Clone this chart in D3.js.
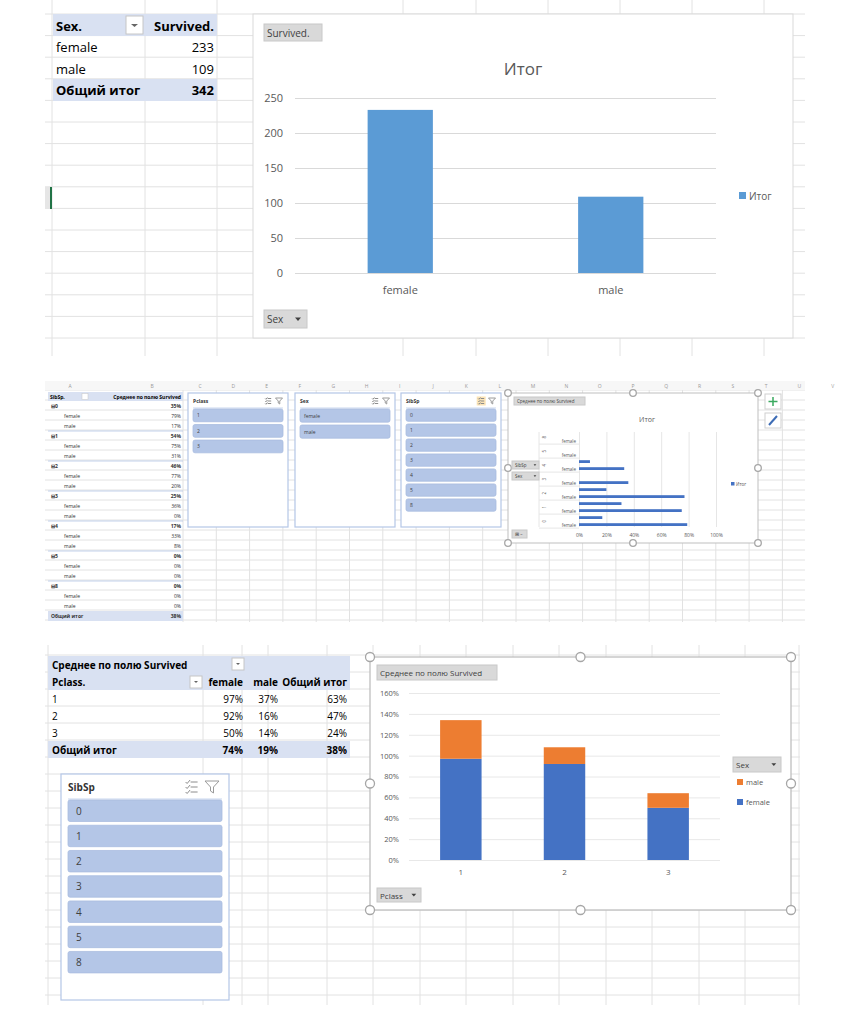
<!DOCTYPE html>
<html>
<head>
<meta charset="utf-8">
<script src="https://cdnjs.cloudflare.com/ajax/libs/d3/7.8.5/d3.min.js"></script>
<style>
  body { margin: 0; background: #fff; }
  svg { display: block; font-family: "Open Sans", "Noto Sans", sans-serif; }
</style>
</head>
<body>
<svg id="sheet" width="854" height="1024"></svg>
<script>
// ---- data ----
const sexCats = ["female", "male"];
const sexSurvived = [233, 109];
const sexSurvivedTotal = 342;
const countTicks = [0, 50, 100, 150, 200, 250];

const sibspGroups = ["0", "1", "2", "3", "4", "5", "8"];
const sibspRate = [0.35, 0.54, 0.46, 0.25, 0.17, 0, 0];
const sibspFemale = [0.79, 0.75, 0.77, 0.36, 0.33, 0, 0];
const sibspMale = [0.17, 0.31, 0.20, 0, 0.08, 0, 0];
const sibspTotalRate = 0.38;
const pctTicksSmall = [0, 0.2, 0.4, 0.6, 0.8, 1.0];

const pclassCats = ["1", "2", "3"];
const pclassFemale = [0.97, 0.92, 0.50];
const pclassMale = [0.37, 0.16, 0.14];
const pclassTotal = [0.63, 0.47, 0.24];
const sexRateTotals = [0.74, 0.19, 0.38];
const pctTicksBig = [0, 0.2, 0.4, 0.6, 0.8, 1.0, 1.2, 1.4, 1.6];

const gridColor = "#e2e2e2";
const headFill = "#d9e1f2";
const slicerItem = "#b4c6e7";
const barBlue = "#5b9bd5";
const femaleColor = "#4472c4";
const maleColor = "#ed7d31";
const axisText = "#595959";
const pct = d3.format(".0%");

const svg = d3.select("#sheet");

// ---- helpers ----
function grid(x0, x1, y0, y1, xs, ys) {
  let g = svg.append("g");
  xs.forEach(function(x) {
    g.append("line").attr("x1", x).attr("x2", x).attr("y1", y0).attr("y2", y1)
      .style("stroke", gridColor).style("stroke-width", 1);
  });
  ys.forEach(function(y) {
    g.append("line").attr("x1", x0).attr("x2", x1).attr("y1", y).attr("y2", y)
      .style("stroke", gridColor).style("stroke-width", 1);
  });
}

function steps(start, end, step) {
  let out = [];
  for (let v = start; v <= end + 0.01; v += step) out.push(v);
  return out;
}

function button(x, y, w, h, label, size, arrow) {
  svg.append("rect").attr("x", x).attr("y", y).attr("width", w).attr("height", h)
    .style("fill", "#d9d9d9").style("stroke", "#c8c8c8");
  svg.append("text").attr("x", x + 3).attr("y", y + h / 2).text(label)
    .style("font-size", size).style("fill", "#404040").style("dominant-baseline", "central");
  if (arrow) {
    let ax = x + w - size * 0.9, ay = y + h / 2;
    svg.append("path")
      .attr("d", "M" + (ax - size * 0.3) + "," + (ay - size * 0.15) + " L" + (ax + size * 0.3) + "," + (ay - size * 0.15) + " L" + ax + "," + (ay + size * 0.2) + " Z")
      .style("fill", "#404040");
  }
}

function handles(x, y, w, h, r) {
  [[0, 0], [0.5, 0], [1, 0], [0, 0.5], [1, 0.5], [0, 1], [0.5, 1], [1, 1]].forEach(function(p) {
    svg.append("circle").attr("cx", x + p[0] * w).attr("cy", y + p[1] * h).attr("r", r)
      .style("fill", "#fff").style("stroke", "#a6a6a6").style("stroke-width", 1.3);
  });
}

function slicer(x, y, w, h, title, items, opt) {
  svg.append("rect").attr("x", x).attr("y", y).attr("width", w).attr("height", h)
    .style("fill", "#fff").style("stroke", "#b4c6e7").style("stroke-width", 1.2);
  svg.append("text").attr("x", x + opt.pad).attr("y", y + opt.titleY).text(title)
    .style("font-size", opt.titleSize).style("font-weight", "bold").style("fill", "#333")
    .style("dominant-baseline", "central");
  svg.append("line").attr("x1", x + opt.pad).attr("x2", x + w - opt.pad)
    .attr("y1", y + opt.titleY * 2 - 1).attr("y2", y + opt.titleY * 2 - 1)
    .style("stroke", "#c9d6ee");
  // multi-select and clear-filter icons
  let ix = x + w - opt.iconGap * 2.2;
  let s = opt.titleSize;
  let icon = svg.append("g").attr("transform", "translate(" + ix + "," + (y + opt.titleY) + ")");
  if (opt.highlight) {
    icon.append("rect").attr("x", -s * 0.9).attr("y", -s * 0.9).attr("width", s * 1.8).attr("height", s * 1.8)
      .style("fill", "#fce4b6");
  }
  [-0.5, 0, 0.5].forEach(function(k) {
    icon.append("line").attr("x1", -s * 0.1).attr("x2", s * 0.6).attr("y1", k * s).attr("y2", k * s)
      .style("stroke", "#8c8c8c").style("stroke-width", 1);
    icon.append("path").attr("d", "M" + (-s * 0.6) + "," + (k * s) + " l" + (s * 0.15) + "," + (s * 0.15) + " l" + (s * 0.3) + "," + (-s * 0.35))
      .style("fill", "none").style("stroke", "#8c8c8c").style("stroke-width", 1);
  });
  svg.append("path")
    .attr("d", "M" + (x + w - opt.iconGap - s * 0.7) + "," + (y + opt.titleY - s * 0.6) +
      " h" + (s * 1.4) + " l" + (-s * 0.55) + "," + (s * 0.6) + " v" + (s * 0.6) + " l" + (-s * 0.3) + "," + (-s * 0.2) + " v" + (-s * 0.4) + " Z")
    .style("fill", "none").style("stroke", "#9a9a9a").style("stroke-width", 1);

  let yb = d3.scaleBand().domain(items).range([y + opt.listTop, y + opt.listTop + items.length * opt.itemStep]).paddingInner(opt.itemGap);
  items.forEach(function(it) {
    svg.append("rect").attr("x", x + opt.pad).attr("y", yb(it)).attr("width", w - opt.pad * 2).attr("height", yb.bandwidth())
      .attr("rx", 2).style("fill", slicerItem).style("stroke", "#a9bcdf").style("stroke-width", 0.8);
    svg.append("text").attr("x", x + opt.pad + opt.textPad).attr("y", yb(it) + yb.bandwidth() / 2).text(it)
      .style("font-size", opt.itemSize).style("fill", "#404040").style("dominant-baseline", "central");
  });
}

// ============ TOP SECTION ============
grid(45, 805, 0, 356,
  [52, 145, 217, 403, 476, 548, 620, 692, 764],
  steps(14, 350, 21.6));
// row header strip with selected row marker
svg.append("rect").attr("x", 45).attr("y", 187).attr("width", 6).attr("height", 22).style("fill", "#e6e6e6");
svg.append("line").attr("x1", 51).attr("x2", 51).attr("y1", 187).attr("y2", 209).style("stroke", "#217346").style("stroke-width", 2);

// pivot table: Sex / Survived
svg.append("rect").attr("x", 53).attr("y", 14).attr("width", 164).attr("height", 22).style("fill", headFill);
svg.append("rect").attr("x", 53).attr("y", 79).attr("width", 164).attr("height", 22).style("fill", headFill);
svg.append("text").attr("x", 56).attr("y", 26).text("Sex.").style("font-weight", "bold").style("font-size", 13).style("dominant-baseline", "central");
svg.append("rect").attr("x", 126).attr("y", 16).attr("width", 17).attr("height", 18).style("fill", "#fff").style("stroke", "#c6c6c6");
svg.append("path").attr("d", "M131,24 h7 l-3.5,3 Z").style("fill", "#666");
svg.append("text").attr("x", 214).attr("y", 26).text("Survived.").style("font-weight", "bold").style("font-size", 13)
  .style("text-anchor", "end").style("dominant-baseline", "central");
sexCats.forEach(function(c, i) {
  let ty = 47 + i * 21.6;
  svg.append("text").attr("x", 56).attr("y", ty).text(c).style("font-size", 13).style("dominant-baseline", "central");
  svg.append("text").attr("x", 214).attr("y", ty).text(sexSurvived[i]).style("font-size", 13)
    .style("text-anchor", "end").style("dominant-baseline", "central");
});
svg.append("text").attr("x", 56).attr("y", 90).text("Общий итог").style("font-weight", "bold").style("font-size", 13).style("dominant-baseline", "central");
svg.append("text").attr("x", 214).attr("y", 90).text(sexSurvivedTotal).style("font-weight", "bold").style("font-size", 13)
  .style("text-anchor", "end").style("dominant-baseline", "central");

// chart 1
svg.append("rect").attr("x", 253).attr("y", 14).attr("width", 540).attr("height", 324)
  .style("fill", "#fff").style("stroke", "#d9d9d9");
button(264, 24, 58, 17, "Survived.", 10, false);
svg.append("text").attr("x", 523).attr("y", 68).text("Итог").style("font-size", 17).style("fill", axisText)
  .style("text-anchor", "middle").style("dominant-baseline", "central");

let x1 = d3.scaleBand().domain(sexCats).range([295, 716]).paddingInner(0.69).paddingOuter(0.345);
let y1 = d3.scaleLinear().domain([0, 250]).range([273, 98]);
let ax1 = svg.append("g").attr("transform", "translate(295,0)")
  .call(d3.axisLeft(y1).tickValues(countTicks).tickSize(-421).tickPadding(12));
ax1.select(".domain").remove();
ax1.selectAll("line").style("stroke", "#d9d9d9");
ax1.selectAll("text").style("font-size", 11).style("fill", axisText).style("font-family", "Open Sans");

svg.append("g").selectAll("rect").data(sexSurvived).enter().append("rect")
  .attr("x", function(d, i) { return x1(sexCats[i]); })
  .attr("y", function(d) { return y1(d); })
  .attr("width", x1.bandwidth())
  .attr("height", function(d) { return y1(0) - y1(d); })
  .style("fill", barBlue);
let bx1 = svg.append("g").attr("transform", "translate(0,273)")
  .call(d3.axisBottom(x1).tickSize(0).tickPadding(13));
bx1.select(".domain").remove();
bx1.selectAll("text").style("font-size", 11).style("fill", axisText).style("font-family", "Open Sans");

svg.append("rect").attr("x", 739).attr("y", 192).attr("width", 7).attr("height", 7).style("fill", barBlue);
svg.append("text").attr("x", 749).attr("y", 196).text("Итог").style("font-size", 10).style("fill", axisText).style("dominant-baseline", "central");
button(264, 310, 43, 18, "Sex", 10, true);

// ============ MIDDLE SECTION ============
grid(45, 805, 381, 622, steps(183, 805, 33.3), steps(390, 622, 10));
svg.append("rect").attr("x", 45).attr("y", 381).attr("width", 760).attr("height", 9).style("fill", "#f7f7f7");
["A", "B", "C", "D", "E", "F", "G", "H", "I", "J", "K", "L", "M", "N", "O", "P", "Q", "R", "S", "T", "U", "V"].forEach(function(l, i) {
  svg.append("text").attr("x", i < 2 ? 70 + i * 82 : 200 + (i - 2) * 33.3).attr("y", 386).text(l)
    .style("font-size", 5).style("fill", "#9a9a9a").style("text-anchor", "middle").style("dominant-baseline", "central");
});

// pivot table: SibSp / Sex, mean of Survived
let midRows = [];
sibspGroups.forEach(function(g, i) {
  midRows.push({ label: "⊟" + g, value: sibspRate[i], bold: true, indent: 0 });
  midRows.push({ label: "female", value: sibspFemale[i], bold: false, indent: 1 });
  midRows.push({ label: "male", value: sibspMale[i], bold: false, indent: 1 });
});
midRows.push({ label: "Общий итог", value: sibspTotalRate, bold: true, indent: 0, total: true });

svg.append("rect").attr("x", 48).attr("y", 392).attr("width", 135).attr("height", 9).style("fill", headFill);
svg.append("text").attr("x", 50).attr("y", 396.5).text("SibSp.").style("font-size", 5).style("font-weight", "bold").style("dominant-baseline", "central");
svg.append("rect").attr("x", 82).attr("y", 393.5).attr("width", 6).attr("height", 6).style("fill", "#fff").style("stroke", "#c6c6c6").style("stroke-width", 0.5);
svg.append("text").attr("x", 181).attr("y", 396.5).text("Среднее по полю Survived").style("font-size", 5).style("font-weight", "bold")
  .style("text-anchor", "end").style("dominant-baseline", "central");
let rowY = d3.scaleBand().domain(d3.range(midRows.length)).range([401, 621]);
midRows.forEach(function(r, i) {
  let cy = rowY(i) + rowY.bandwidth() / 2;
  if (r.total) {
    svg.append("rect").attr("x", 48).attr("y", rowY(i)).attr("width", 135).attr("height", rowY.bandwidth()).style("fill", headFill);
  }
  if (r.bold && !r.total && i > 0) {
    svg.append("line").attr("x1", 48).attr("x2", 183).attr("y1", rowY(i)).attr("y2", rowY(i)).style("stroke", "#b4c6e7").style("stroke-width", 0.8);
  }
  svg.append("text").attr("x", 51 + r.indent * 13).attr("y", cy).text(r.label)
    .style("font-size", 5).style("font-weight", r.bold ? "bold" : "normal").style("fill", "#333").style("dominant-baseline", "central");
  svg.append("text").attr("x", 181).attr("y", cy).text(pct(r.value))
    .style("font-size", 5).style("font-weight", r.bold ? "bold" : "normal").style("fill", "#333")
    .style("text-anchor", "end").style("dominant-baseline", "central");
});

// three slicers
let smallSlicer = { pad: 5, titleY: 8, titleSize: 5, iconGap: 9, listTop: 16, itemStep: 14.6, itemGap: 0.18, itemSize: 5, textPad: 4 };
slicer(188, 393, 100, 134, "Pclass", pclassCats, smallSlicer);
slicer(295, 393, 100, 134, "Sex", sexCats, smallSlicer);
slicer(401, 393, 100, 134, "SibSp", sibspGroups, Object.assign({}, smallSlicer, { highlight: true }));

// chart 2: horizontal bars by SibSp and Sex
svg.append("rect").attr("x", 508).attr("y", 393).attr("width", 250).attr("height", 150)
  .style("fill", "#fff").style("stroke", "#bfbfbf");
handles(508, 393, 250, 150, 3.3);
button(514, 397, 71, 8, "Среднее по полю Survived", 4.5, false);
svg.append("text").attr("x", 647).attr("y", 419).text("Итог").style("font-size", 7).style("fill", axisText)
  .style("text-anchor", "middle").style("dominant-baseline", "central");

let hbCats = [];
sibspGroups.forEach(function(g, i) {
  hbCats.push({ key: g + "f", group: g, sex: "female", value: sibspFemale[i] });
  hbCats.push({ key: g + "m", group: g, sex: "male", value: sibspMale[i] });
});
let y2 = d3.scaleBand().domain(hbCats.map(function(d) { return d.key; })).range([526, 432.2]).paddingInner(0.6);
let x2 = d3.scaleLinear().domain([0, 1]).range([579, 716]);
let ax2 = svg.append("g").attr("transform", "translate(0,527)")
  .call(d3.axisBottom(x2).tickValues(pctTicksSmall).tickFormat(pct).tickSize(-95).tickPadding(6));
ax2.select(".domain").remove();
ax2.selectAll("line").style("stroke", "#e6e6e6");
ax2.selectAll("text").style("font-size", 5).style("fill", axisText).style("font-family", "Open Sans");

svg.append("g").selectAll("rect").data(hbCats).enter().append("rect")
  .attr("x", x2(0))
  .attr("y", function(d) { return y2(d.key); })
  .attr("width", function(d) { return x2(d.value) - x2(0); })
  .attr("height", y2.bandwidth())
  .style("fill", femaleColor);

let step2 = y2.step();
hbCats.forEach(function(d) {
  if (d.sex === "female") {
    let cy = y2(d.key) + y2.bandwidth() / 2;
    svg.append("text").attr("x", 576).attr("y", cy).text(d.sex).style("font-size", 4.5).style("fill", axisText)
      .style("text-anchor", "end").style("dominant-baseline", "central");
    let gc = cy - step2 / 2;
    svg.append("text").attr("transform", "translate(544," + gc + ") rotate(-90)").text(d.group)
      .style("font-size", 4.5).style("fill", axisText).style("text-anchor", "middle").style("dominant-baseline", "central");
    svg.append("line").attr("x1", 539).attr("x2", 579).attr("y1", cy + step2 / 2).attr("y2", cy + step2 / 2).style("stroke", "#e6e6e6");
  }
});
svg.append("line").attr("x1", 539).attr("x2", 539).attr("y1", 432).attr("y2", 527).style("stroke", "#e6e6e6");
button(512, 461, 27, 8, "SibSp", 4.5, true);
button(512, 472, 27, 8, "Sex", 4.5, true);
button(512, 530, 15, 8, "⊞ –", 4.5, false);
svg.append("rect").attr("x", 731).attr("y", 482).attr("width", 3.5).attr("height", 3.5).style("fill", femaleColor);
svg.append("text").attr("x", 736).attr("y", 484).text("Итог").style("font-size", 4.5).style("fill", axisText).style("dominant-baseline", "central");

// chart tool buttons
svg.append("rect").attr("x", 765).attr("y", 394).attr("width", 16).attr("height", 15).style("fill", "#fff").style("stroke", "#d0d0d0");
svg.append("path").attr("d", "M773,397 v9 M768.5,401.5 h9").style("stroke", "#3aa95f").style("stroke-width", 1.5);
svg.append("rect").attr("x", 765).attr("y", 413).attr("width", 16).attr("height", 15).style("fill", "#fff").style("stroke", "#d0d0d0");
svg.append("path").attr("d", "M769,425 L777,416").style("stroke", "#3d6cb5").style("stroke-width", 2);

// ============ BOTTOM SECTION ============
grid(45, 800, 645, 1005,
  [48, 203, 242, 268, 327, 373, 420, 466, 513, 559, 606, 652, 699, 745, 799],
  steps(655, 1004, 17));

// pivot table: Pclass x Sex
svg.append("rect").attr("x", 48).attr("y", 656).attr("width", 302).attr("height", 34).style("fill", headFill);
svg.append("rect").attr("x", 48).attr("y", 741).attr("width", 302).attr("height", 17).style("fill", headFill);
svg.append("text").attr("x", 52).attr("y", 665).text("Среднее по полю Survived").style("font-size", 10).style("font-weight", "bold").style("dominant-baseline", "central");
svg.append("rect").attr("x", 232).attr("y", 658).attr("width", 12).attr("height", 12).style("fill", "#fff").style("stroke", "#c6c6c6");
svg.append("path").attr("d", "M236,663 h4 l-2,2 Z").style("fill", "#666");
svg.append("text").attr("x", 52).attr("y", 682).text("Pclass.").style("font-size", 10).style("font-weight", "bold").style("dominant-baseline", "central");
svg.append("rect").attr("x", 190).attr("y", 676).attr("width", 12).attr("height", 12).style("fill", "#fff").style("stroke", "#c6c6c6");
svg.append("path").attr("d", "M194,681 h4 l-2,2 Z").style("fill", "#666");
let colX = [243, 278, 347];
sexCats.concat(["Общий итог"]).forEach(function(h, i) {
  svg.append("text").attr("x", colX[i]).attr("y", 682).text(h).style("font-size", 10).style("font-weight", "bold")
    .style("text-anchor", "end").style("dominant-baseline", "central");
});
pclassCats.forEach(function(c, i) {
  let cy = 699 + i * 17;
  svg.append("text").attr("x", 52).attr("y", cy).text(c).style("font-size", 10).style("dominant-baseline", "central");
  [pclassFemale[i], pclassMale[i], pclassTotal[i]].forEach(function(v, j) {
    svg.append("text").attr("x", colX[j]).attr("y", cy).text(pct(v)).style("font-size", 10)
      .style("text-anchor", "end").style("dominant-baseline", "central");
  });
});
svg.append("text").attr("x", 52).attr("y", 750).text("Общий итог").style("font-size", 10).style("font-weight", "bold").style("dominant-baseline", "central");
sexRateTotals.forEach(function(v, j) {
  svg.append("text").attr("x", colX[j]).attr("y", 750).text(pct(v)).style("font-size", 10).style("font-weight", "bold")
    .style("text-anchor", "end").style("dominant-baseline", "central");
});

// big SibSp slicer
slicer(61, 774, 168, 226, "SibSp", sibspGroups,
  { pad: 7, titleY: 13, titleSize: 10, iconGap: 17, listTop: 26, itemStep: 24.7, itemGap: 0.15, itemSize: 10, textPad: 8 });

// chart 3: stacked columns by Pclass
svg.append("rect").attr("x", 370).attr("y", 657).attr("width", 421).attr("height", 253)
  .style("fill", "#fff").style("stroke", "#bfbfbf").style("stroke-width", 1.3);
handles(370, 657, 421, 253, 4.5);
button(377, 665, 120, 15, "Среднее по полю Survived", 8, false);

let x3 = d3.scaleBand().domain(pclassCats).range([409, 720]).paddingInner(0.6).paddingOuter(0.3);
let y3 = d3.scaleLinear().domain([0, 1.6]).range([860, 693]);
let ax3 = svg.append("g").attr("transform", "translate(409,0)")
  .call(d3.axisLeft(y3).tickValues(pctTicksBig).tickFormat(pct).tickSize(-311).tickPadding(10));
ax3.select(".domain").remove();
ax3.selectAll("line").style("stroke", "#e8e8e8");
ax3.selectAll("text").style("font-size", 7.5).style("fill", axisText).style("font-family", "Open Sans");

let stackData = pclassCats.map(function(c, i) { return { cat: c, female: pclassFemale[i], male: pclassMale[i] }; });
let stacked = d3.stack().keys(["female", "male"])(stackData);
let sexColor = d3.scaleOrdinal().domain(["female", "male"]).range([femaleColor, maleColor]);
svg.append("g").selectAll("g").data(stacked).enter().append("g")
  .style("fill", function(s) { return sexColor(s.key); })
  .selectAll("rect").data(function(s) { return s; }).enter().append("rect")
  .attr("x", function(d) { return x3(d.data.cat); })
  .attr("y", function(d) { return y3(d[1]); })
  .attr("width", x3.bandwidth())
  .attr("height", function(d) { return y3(d[0]) - y3(d[1]); });

let bx3 = svg.append("g").attr("transform", "translate(0,860)")
  .call(d3.axisBottom(x3).tickSize(0).tickPadding(9));
bx3.select(".domain").remove();
bx3.selectAll("text").style("font-size", 8).style("fill", axisText).style("font-family", "Open Sans");

button(733, 757, 48, 15, "Sex", 8, true);
["male", "female"].forEach(function(k, i) {
  svg.append("rect").attr("x", 737).attr("y", 779 + i * 20).attr("width", 6).attr("height", 6).style("fill", sexColor(k));
  svg.append("text").attr("x", 746).attr("y", 782 + i * 20).text(k).style("font-size", 7.5).style("fill", axisText).style("dominant-baseline", "central");
});
button(377, 888, 44, 14, "Pclass", 8, true);
</script>
</body>
</html>
